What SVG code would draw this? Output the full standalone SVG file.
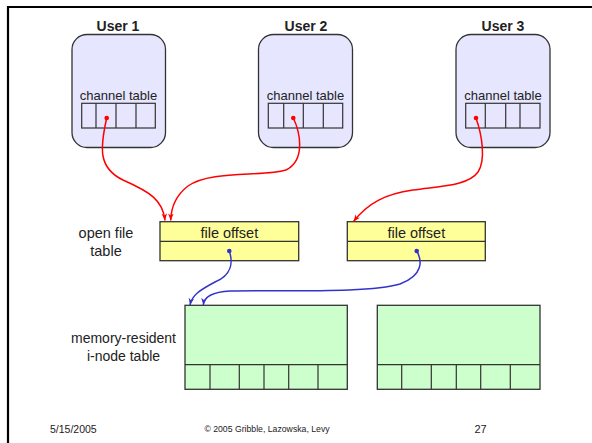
<svg xmlns="http://www.w3.org/2000/svg" width="592" height="443" viewBox="0 0 592 443">
<style>
.user{fill:#E6E6FF;stroke:#333;stroke-width:1.3}
.cell{fill:none;stroke:#333;stroke-width:1.2}
.oft{fill:#FFFF99;stroke:#333;stroke-width:1.3}
.ino{fill:#CCFFCC;stroke:#333;stroke-width:1.3}
.t{font-family:"Liberation Sans",Arial,sans-serif;fill:#222}
.red{fill:none;stroke:#FF0000;stroke-width:1.5}
.blue{fill:none;stroke:#3333CC;stroke-width:1.5}
</style>
<defs>
<marker id="ar" viewBox="0 0 10 10" refX="10" refY="5" markerWidth="7" markerHeight="7" orient="auto" markerUnits="userSpaceOnUse">
<path d="M0,1 L10,5 L0,9 L3,5 z" fill="#FF0000"/>
</marker>
<marker id="ab" viewBox="0 0 10 10" refX="10" refY="5" markerWidth="7" markerHeight="7" orient="auto" markerUnits="userSpaceOnUse">
<path d="M0,1 L10,5 L0,9 L3,5 z" fill="#3333CC"/>
</marker>
</defs>
<g id="frame">
<path d="M8,443 V7 H592" fill="none" stroke="#000" stroke-width="2.2"/>
</g>
<g id="user1">
<text class="t" x="118" y="31" font-size="14" font-weight="bold" text-anchor="middle">User 1</text>
<rect class="user" x="72" y="34.5" width="93.5" height="113" rx="15"/>
<text class="t" x="118.5" y="100" font-size="13" text-anchor="middle">channel table</text>
<rect class="cell" x="81.7" y="103.3" width="73.6" height="24.7"/>
<path class="cell" d="M96,103.3V128M116,103.3V128M136,103.3V128"/>
</g>
<g id="user2">
<text class="t" x="306" y="31" font-size="14" font-weight="bold" text-anchor="middle">User 2</text>
<rect class="user" x="258.5" y="34.5" width="94" height="113" rx="15"/>
<text class="t" x="305.5" y="100" font-size="13" text-anchor="middle">channel table</text>
<rect class="cell" x="268.3" y="103.3" width="74.4" height="24.7"/>
<path class="cell" d="M283.7,103.3V128M303.3,103.3V128M323.3,103.3V128"/>
</g>
<g id="user3">
<text class="t" x="503" y="31" font-size="14" font-weight="bold" text-anchor="middle">User 3</text>
<rect class="user" x="456" y="34.5" width="94" height="113" rx="15"/>
<text class="t" x="503" y="100" font-size="13" text-anchor="middle">channel table</text>
<rect class="cell" x="465.7" y="103.3" width="74.3" height="24.7"/>
<path class="cell" d="M485.3,103.3V128M505.7,103.3V128M520,103.3V128"/>
</g>
<g id="openfile-label">
<text class="t" x="106" y="238" font-size="14.5" text-anchor="middle">open file</text>
<text class="t" x="106" y="256" font-size="14.5" text-anchor="middle">table</text>
</g>
<g id="oft1">
<rect class="oft" x="160" y="221.7" width="138.7" height="39"/>
<path class="cell" d="M160,241.3H298.7"/>
<text class="t" x="229.3" y="237.5" font-size="14.5" text-anchor="middle">file offset</text>
</g>
<g id="oft2">
<rect class="oft" x="347.3" y="221.7" width="138" height="39"/>
<path class="cell" d="M347.3,241.3H485.3"/>
<text class="t" x="416.3" y="237.5" font-size="14.5" text-anchor="middle">file offset</text>
</g>
<g id="inode-label">
<text class="t" x="123.5" y="343" font-size="14" text-anchor="middle">memory-resident</text>
<text class="t" x="123.5" y="360.5" font-size="14" text-anchor="middle">i-node table</text>
</g>
<g id="inode1">
<rect class="ino" x="185" y="305.3" width="162.3" height="84"/>
<path class="cell" d="M185,364.7H347.3M210,364.7V389.3M239.3,364.7V389.3M264,364.7V389.3M288.7,364.7V389.3M318,364.7V389.3"/>
</g>
<g id="inode2">
<rect class="ino" x="377.3" y="305.3" width="162.7" height="84"/>
<path class="cell" d="M377.3,364.7H540M401.7,364.7V389.3M431.3,364.7V389.3M456.3,364.7V389.3M480.7,364.7V389.3M510.3,364.7V389.3"/>
</g>
<g id="connectors">
<path class="red" d="M106.7,118 C100,148 98,168 123,180 C150,192 163,200 165,220.5" marker-end="url(#ar)"/>
<path class="red" d="M293.3,118 C300,132 306,160 286,170 C262,177 210,170 188,186 C175,196 171,208 170.7,220.5" marker-end="url(#ar)"/>
<path class="red" d="M476,118 C482,135 486,160 478,172 C468,186 440,186 413,190 C385,194 368,203 353.5,221.5" marker-end="url(#ar)"/>
<path class="blue" d="M229.3,251 C233,262 232,275 215,282 C200,290 192,295 190,305" marker-end="url(#ab)"/>
<path class="blue" d="M416.7,251 C422,260 424,275 400,284 C370,293 290,290 230,291 C210,292 204,298 203.3,305" marker-end="url(#ab)"/>
<circle cx="106.7" cy="118" r="2.3" fill="#FF0000"/>
<circle cx="293.3" cy="118" r="2.3" fill="#FF0000"/>
<circle cx="476" cy="118" r="2.3" fill="#FF0000"/>
<circle cx="229.3" cy="251" r="2.3" fill="#3333CC"/>
<circle cx="416.7" cy="251" r="2.3" fill="#3333CC"/>
</g>
<g id="footer">
<text class="t" x="50" y="432.5" font-size="10.5">5/15/2005</text>
<text class="t" x="267" y="432" font-size="8.7" text-anchor="middle">© 2005 Gribble, Lazowska, Levy</text>
<text class="t" x="480.5" y="432.5" font-size="11" text-anchor="middle">27</text>
</g>
</svg>
